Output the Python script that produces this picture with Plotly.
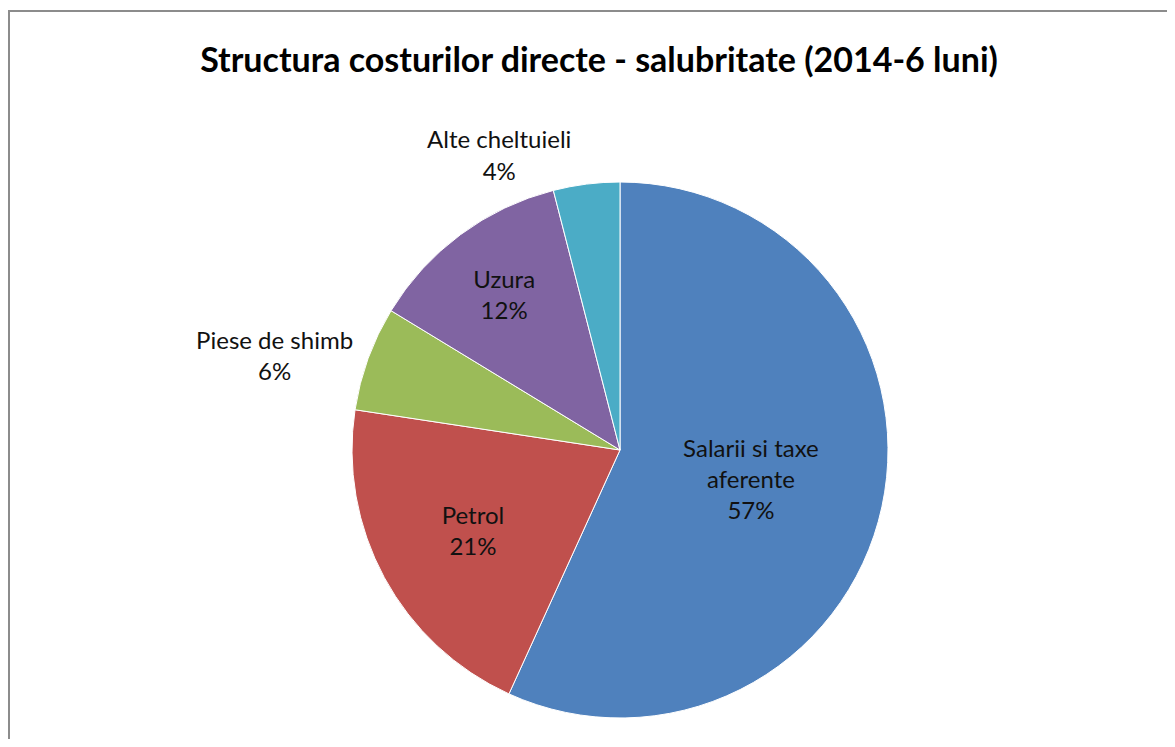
import plotly.graph_objects as go

# cost categories, clockwise from 12 o'clock
categories = ["Salarii si taxe aferente", "Petrol", "Piese de shimb", "Uzura", "Alte cheltuieli"]
display_names = ["Salarii si taxe<br>aferente", "Petrol", "Piese de shimb", "Uzura", "Alte cheltuieli"]
shares = [56.8, 20.6, 6.3, 12.3, 4.0]

colors = ["#4F81BD", "#C0504D", "#9BBB59", "#8064A2", "#4BACC6"]
label_pos = ["inside", "inside", "outside", "inside", "outside"]

# the page body adds an 8px margin, so the figure is kept inside the window
W, H = 1159, 731
OFF = 8


def px_x(x):
    return (x - OFF) / W


def px_y(y):
    return 1 - (y - OFF) / H


label_font = dict(family="Lato", size=24, color="#111111")

fig = go.Figure(
    go.Pie(
        labels=categories,
        values=shares,
        text=display_names,
        texttemplate="%{text}<br>%{percent:.0%}",
        textposition=label_pos,
        insidetextorientation="horizontal",
        sort=False,
        direction="clockwise",
        rotation=0,
        marker=dict(colors=colors, line=dict(color="white", width=1)),
        textfont=label_font,
        insidetextfont=label_font,
        outsidetextfont=label_font,
        domain=dict(x=[px_x(352), px_x(888)], y=[px_y(718), px_y(182)]),
        showlegend=False,
        hoverinfo="label+percent",
    )
)

fig.update_layout(
    width=W,
    height=H,
    margin=dict(l=0, r=0, t=0, b=0),
    paper_bgcolor="white",
    title=dict(
        text="<b>Structura costurilor directe - salubritate (2014-6 luni)</b>",
        x=px_x(599),
        xanchor="center",
        y=px_y(60),
        yanchor="middle",
        font=dict(family="Lato", size=34, color="#000000"),
    ),
    shapes=[
        dict(
            type="rect",
            xref="paper",
            yref="paper",
            x0=px_x(8) + 1 / W,
            x1=1.02,
            y0=-0.02,
            y1=px_y(11),
            line=dict(color="#8C8C8C", width=2),
        )
    ],
)

fig.write_html("out.html")
